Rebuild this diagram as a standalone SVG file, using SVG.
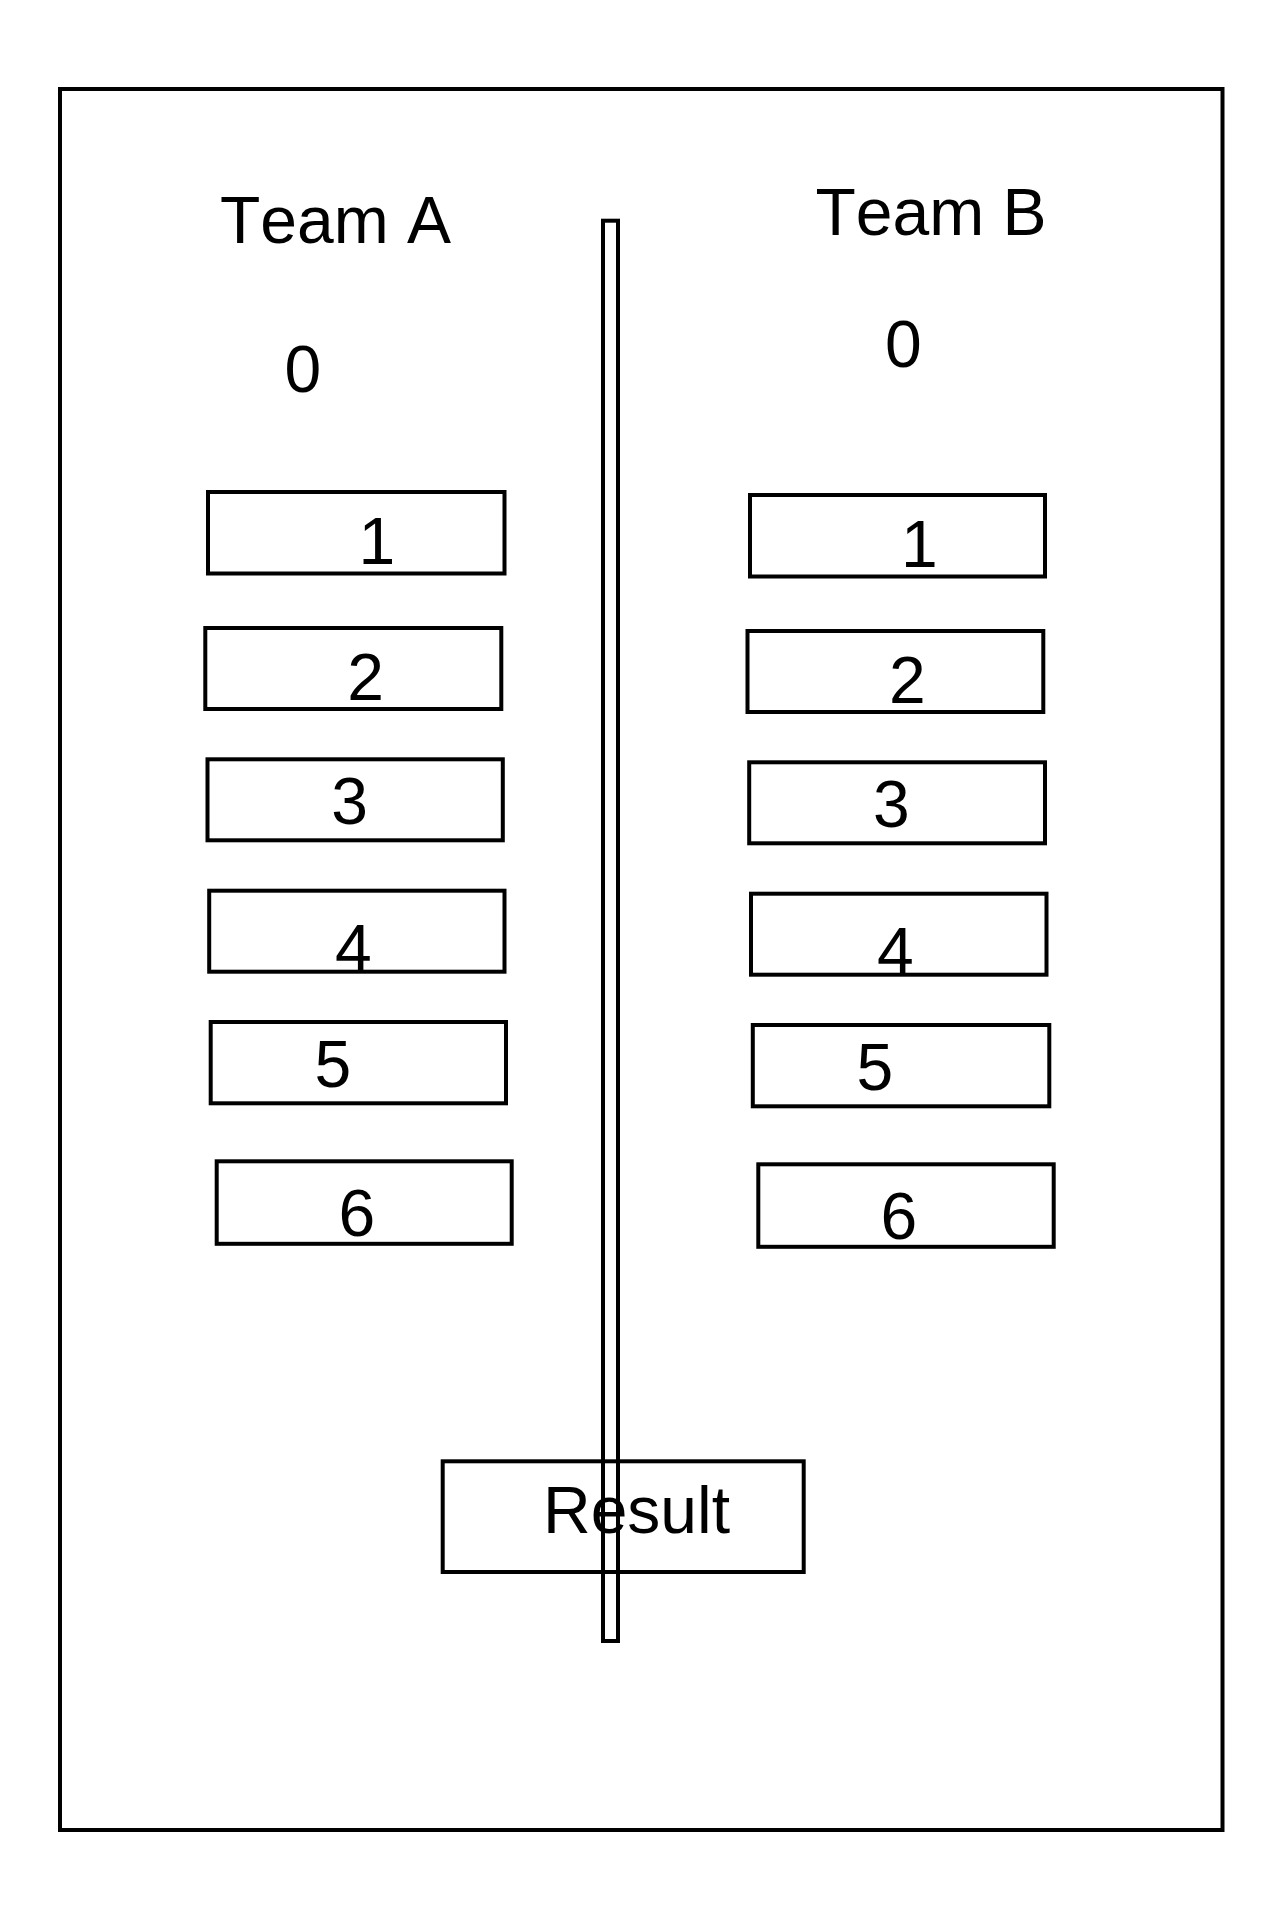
<svg xmlns="http://www.w3.org/2000/svg" width="1282" height="1920" viewBox="0 0 1282 1920">
<style>
.box{fill:none;stroke:#000;stroke-width:4}
.t{font-family:"Liberation Sans",Arial,sans-serif;font-size:66px;fill:#000;font-kerning:none;font-feature-settings:"kern" 0}
</style>
<rect x="0" y="0" width="1282" height="1920" fill="#fff"/>
<g id="frame"><rect class="box" x="60" y="89" width="1162.5" height="1741"/></g>
<g id="teamA-title"><text class="t" x="220" y="243">Team A</text></g>
<g id="teamB-title"><text class="t" x="815.5" y="235">Team B</text></g>
<g id="teamA-score"><text class="t" x="284.5" y="392">0</text></g>
<g id="teamB-score"><text class="t" x="885" y="367">0</text></g>
<g id="a1"><rect class="box" x="208" y="492" width="296.5" height="81.5"/><text class="t" x="358.5" y="564">1</text></g>
<g id="a2"><rect class="box" x="205.3" y="628" width="296" height="81"/><text class="t" x="347.3" y="699.5">2</text></g>
<g id="a3"><rect class="box" x="207.5" y="759.3" width="295.3" height="81"/><text class="t" x="331.2" y="823.5">3</text></g>
<g id="a4"><rect class="box" x="209.2" y="890.7" width="295.3" height="81"/><text class="t" x="335" y="971">4</text></g>
<g id="a5"><rect class="box" x="210.7" y="1022" width="295.3" height="81.3"/><text class="t" x="314.5" y="1086.5">5</text></g>
<g id="a6"><rect class="box" x="216.7" y="1161.3" width="295" height="82.5"/><text class="t" x="338.5" y="1236">6</text></g>
<g id="b1"><rect class="box" x="750" y="495" width="295" height="81.5"/><text class="t" x="901" y="567">1</text></g>
<g id="b2"><rect class="box" x="747.5" y="631" width="295.8" height="81"/><text class="t" x="889" y="702.5">2</text></g>
<g id="b3"><rect class="box" x="749.2" y="762.3" width="295.8" height="81"/><text class="t" x="873" y="826.5">3</text></g>
<g id="b4"><rect class="box" x="751" y="893.7" width="295.5" height="81"/><text class="t" x="877" y="974">4</text></g>
<g id="b5"><rect class="box" x="752.8" y="1025" width="296.5" height="81.3"/><text class="t" x="856.5" y="1089.5">5</text></g>
<g id="b6"><rect class="box" x="758.3" y="1164.3" width="295.4" height="82.5"/><text class="t" x="880.5" y="1239">6</text></g>
<g id="result"><rect class="box" x="442.7" y="1461.3" width="361" height="110.7"/><text class="t" x="543" y="1533.3">Result</text></g>
<g id="divider"><rect class="box" x="603" y="220.7" width="15" height="1420.3"/></g>
<g id="connectors"></g>
</svg>
